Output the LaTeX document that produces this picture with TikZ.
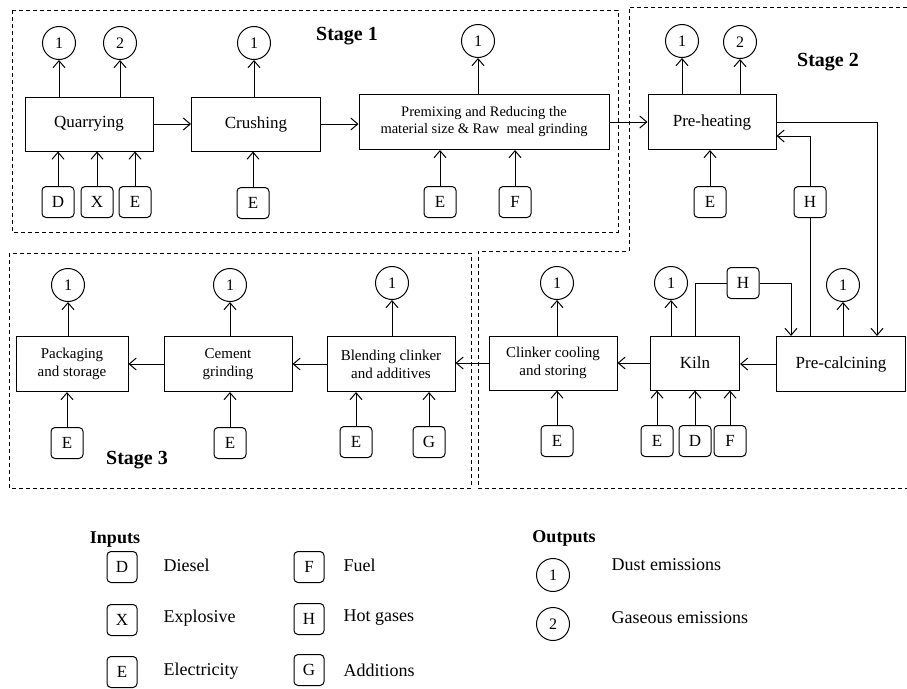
\documentclass[tikz,border=0pt]{standalone}
\usepackage{fontspec}
\setmainfont{Liberation Serif}
\usetikzlibrary{arrows.meta,calc,positioning}
\tikzset{
	flow/.style={-{Straight Barb[length=7pt,width=12pt]}, line width=1pt},
	proc/.style={rectangle, draw, line width=1pt, minimum width=128pt, minimum height=54pt, inner sep=1pt, align=center, font=\fontsize{17}{19}\selectfont},
	proctwo/.style={proc, font=\fontsize{15}{18}\selectfont},
	inp/.style={rectangle, rounded corners=4pt, draw, line width=1pt, minimum width=32pt, minimum height=31pt, inner sep=0pt, font=\fontsize{17}{19}\selectfont},
	outp/.style={circle, draw, line width=1pt, minimum size=33pt, inner sep=0pt, font=\fontsize{16}{18}\selectfont},
	stagebox/.style={line width=1pt, dash pattern=on 4pt off 3pt},
	stagelabel/.style={font=\fontsize{20}{24}\selectfont\bfseries},
	legtext/.style={anchor=west, font=\fontsize{18}{22}\selectfont}
}
\begin{document}
\begin{tikzpicture}[x=1pt,y=-1pt]
    \useasboundingbox (0,0) rectangle (907,688);

    % stage frames
    \draw[stagebox] (12,10) rectangle (618,232);
    \draw[stagebox] (907,7) -- (629,7) -- (629,251) -- (478,251) -- (478,488) -- (907,488);
    \draw[stagebox] (9,253) rectangle (471,488);
    \node[stagelabel] (s1) at (347,36) {Stage 1};
    \node[stagelabel] (s2) at (828,62) {Stage 2};
    \node[stagelabel] (s3) at (137,460) {Stage 3};

    % stage 1
    \node[proc] (quarry) at (89,124) {Quarrying};
    \node[proc, minimum width=129pt] (crush) at (256,124) {Crushing};
    \node[proc, minimum width=250pt, minimum height=55pt, font=\fontsize{14.5}{17}\selectfont] (premix) at (484,122) {Premixing and Reducing\ the\\material size \& Raw\ \ meal grinding};
    \node[outp] (q1) at (59,43) {1};
    \node[outp] (q2) at (120,43) {2};
    \node[outp] (c1) at (254,43) {1};
    \node[outp] (p1) at (478,41) {1};
    \node[inp] (qd) at (58,202) {D};
    \node[inp] (qx) at (97,202) {X};
    \node[inp] (qe) at (135,202) {E};
    \node[inp] (ce) at (253,203) {E};
    \node[inp] (pe) at (440,202) {E};
    \node[inp] (pf) at (515,202) {F};

    \draw[flow] (quarry) -- (crush);
    \draw[flow] (crush.east) -- (crush.east -| premix.west);
    \draw[flow] (q1 |- quarry.north) -- (q1);
    \draw[flow] (q2 |- quarry.north) -- (q2);
    \draw[flow] (c1 |- crush.north) -- (c1);
    \draw[flow] (p1 |- premix.north) -- (p1);
    \draw[flow] (qd) -- (qd |- quarry.south);
    \draw[flow] (qx) -- (qx |- quarry.south);
    \draw[flow] (qe) -- (qe |- quarry.south);
    \draw[flow] (ce) -- (ce |- crush.south);
    \draw[flow] (pe) -- (pe |- premix.south);
    \draw[flow] (pf) -- (pf |- premix.south);

    % stage 2
    \node[proc, minimum height=55pt] (preheat) at (712,122) {Pre-heating};
    \node[proc, minimum width=129pt, minimum height=55pt] (precalc) at (841,364) {Pre-calcining};
    \node[proc, minimum width=89pt] (kiln) at (695,363) {Kiln};
    \node[proctwo] (clinker) at (553,363) {Clinker cooling\\and storing};
    \node[outp] (h1) at (682,41) {1};
    \node[outp] (h2) at (740,42) {2};
    \node[outp] (pc1) at (843,285) {1};
    \node[outp] (k1) at (671,283) {1};
    \node[outp] (cl1) at (557,283) {1};
    \node[inp] (he) at (710,202) {E};
    \node[inp] (hh) at (810,202) {H};
    \node[inp] (kh) at (743,283) {H};
    \node[inp] (ke) at (657,441) {E};
    \node[inp] (kd) at (695,441) {D};
    \node[inp] (kf) at (730,441) {F};
    \node[inp] (cle) at (557,441) {E};

    \draw[flow] (premix.east) -- (premix.east -| preheat.west);
    \draw[flow] (preheat.east) -| ([xshift=36pt]precalc.north);
    \draw (hh |- precalc.north) -- (hh);
    \draw[flow] (hh.north) |- ([yshift=-14pt]preheat.east);
    \draw (kiln.north) |- (kh.west);
    \draw[flow] (kh.east) -| ([xshift=-50pt]precalc.north);
    \draw[flow] (precalc.west) -- (precalc.west -| kiln.east);
    \draw[flow] (kiln) -- (clinker);
    \draw[flow] (h1 |- preheat.north) -- (h1);
    \draw[flow] (h2 |- preheat.north) -- (h2);
    \draw[flow] (pc1 |- precalc.north) -- (pc1);
    \draw[flow] (k1 |- kiln.north) -- (k1);
    \draw[flow] (cl1 |- clinker.north) -- (cl1);
    \draw[flow] (he) -- (he |- preheat.south);
    \draw[flow] (ke) -- (ke |- kiln.south);
    \draw[flow] (kd) -- (kd |- kiln.south);
    \draw[flow] (kf) -- (kf |- kiln.south);
    \draw[flow] (cle) -- (cle |- clinker.south);

    % stage 3
    \node[proctwo, minimum height=55pt] (blend) at (391,364) {Blending clinker\\and additives};
    \node[proctwo, minimum height=55pt] (cement) at (228,364) {Cement\\grinding};
    \node[proctwo, minimum width=112pt, minimum height=55pt] (pack) at (72,364) {Packaging\\and storage};
    \node[outp] (b1) at (392,283) {1};
    \node[outp] (ce1) at (230,285) {1};
    \node[outp] (pk1) at (68,285) {1};
    \node[inp] (be) at (356,442) {E};
    \node[inp] (bg) at (429,442) {G};
    \node[inp] (cee) at (230,443) {E};
    \node[inp] (pke) at (67,443) {E};

    \draw[flow] (clinker.west) -- (clinker.west -| blend.east);
    \draw[flow] (blend) -- (cement);
    \draw[flow] (cement) -- (pack);
    \draw[flow] (b1 |- blend.north) -- (b1);
    \draw[flow] (ce1 |- cement.north) -- (ce1);
    \draw[flow] (pk1 |- pack.north) -- (pk1);
    \draw[flow] (be) -- (be |- blend.south);
    \draw[flow] (bg) -- (bg |- blend.south);
    \draw[flow] (cee) -- (cee |- cement.south);
    \draw[flow] (pke) -- (pke |- pack.south);

    % legend
    \node[font=\fontsize{18}{22}\selectfont\bfseries] (inputs) at (115,540) {Inputs};
    \node[font=\fontsize{18}{22}\selectfont\bfseries] (outputs) at (564,538) {Outputs};
    \node[inp, minimum width=30pt] (ld) at (122,567) {D};
    \node[inp, minimum width=30pt] (lx) at (122,620) {X};
    \node[inp, minimum width=30pt] (le) at (122,672) {E};
    \node[inp, minimum width=30pt] (lf) at (309,567) {F};
    \node[inp, minimum width=30pt] (lh) at (309,619) {H};
    \node[inp, minimum width=30pt] (lg) at (309,670) {G};
    \node[outp] (lo1) at (553,575) {1};
    \node[outp] (lo2) at (553,624) {2};
    \node[legtext] at (160,565) {Diesel};
    \node[legtext] at (160,618) {Explosive};
    \node[legtext] at (160,671) {Electricity};
    \node[legtext] at (340,565) {Fuel};
    \node[legtext] at (340,618) {Hot gases};
    \node[legtext] at (340,670) {Additions};
    \node[legtext] at (608,565) {Dust emissions};
    \node[legtext] at (608,618) {Gaseous emissions};
\end{tikzpicture}
\end{document}
